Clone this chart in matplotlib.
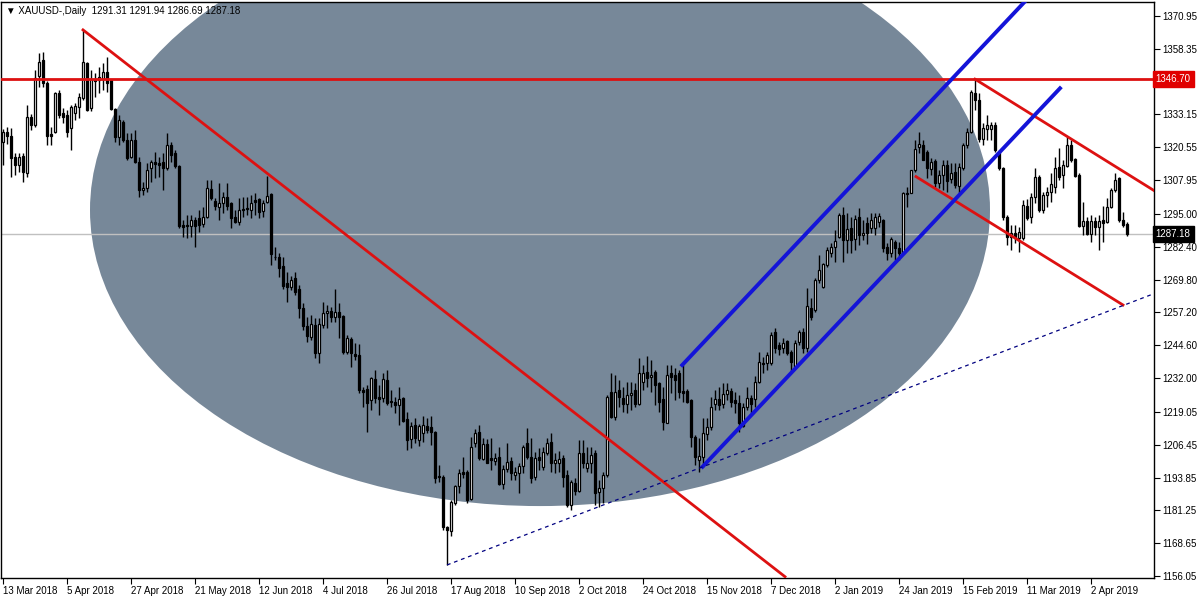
import matplotlib
matplotlib.use("Agg")
import matplotlib.pyplot as plt
from matplotlib.patches import Ellipse
import numpy as np

plt.rcParams['font.family'] = ['Liberation Sans', 'DejaVu Sans']

# ---------------- data (XAUUSD daily, 13 Mar 2018 .. 15 Apr 2019) ----------------
opens = [1322.7,1326.6,1324.9,1317.0,1313.8,1317.2,1310.6,1332.1,1329.1,1347.9,
         1354.0,1345.1,1325.5,1326.6,1341.3,1333.6,1333.0,1327.9,1333.6,1336.2,
         1339.4,1353.0,1335.5,1346.6,1346.5,1346.6,1349.6,1346.4,1335.1,1324.6,
         1330.4,1323.4,1316.9,1323.4,1315.0,1304.2,1304.8,1312.5,1315.1,1314.5,
         1315.1,1312.5,1321.4,1318.3,1313.4,1290.8,1290.8,1290.4,1292.7,1293.3,
         1291.1,1293.9,1304.4,1300.1,1297.8,1299.1,1301.4,1299.1,1293.9,1292.0,
         1297.0,1297.1,1296.5,1300.4,1300.6,1296.1,1299.7,1302.5,1278.6,1278.6,
         1275.0,1268.6,1267.1,1270.3,1266.1,1258.8,1252.0,1247.9,1252.4,1241.8,
         1252.4,1256.9,1257.8,1255.5,1257.5,1255.8,1242.1,1246.9,1241.2,1240.8,
         1227.4,1227.7,1223.6,1231.5,1224.9,1224.2,1231.3,1223.2,1222.9,1221.7,
         1224.2,1216.2,1208.5,1214.0,1208.2,1210.8,1213.6,1213.1,1211.4,1194.2,
         1194.2,1175.0,1173.5,1183.9,1190.6,1196.1,1196.1,1185.5,1207.0,1211.4,
         1200.8,1206.7,1201.2,1200.3,1201.8,1191.4,1197.0,1200.3,1194.8,1195.7,
         1198.3,1207.0,1201.6,1194.2,1201.8,1198.0,1203.4,1207.6,1199.6,1199.5,
         1201.2,1194.8,1183.3,1191.6,1188.8,1203.1,1197.4,1199.5,1203.1,1188.4,
         1189.7,1194.8,1226.8,1216.9,1227.4,1224.2,1222.0,1225.5,1227.4,1222.0,
         1230.6,1234.5,1232.3,1234.5,1230.2,1224.0,1214.9,1234.1,1233.2,1234.1,
         1227.2,1227.2,1223.6,1209.5,1200.6,1201.9,1210.5,1213.1,1222.0,1223.8,
         1222.0,1226.0,1227.2,1223.6,1222.3,1213.6,1221.0,1224.2,1223.9,1230.6,
         1237.9,1237.7,1237.7,1249.8,1244.7,1243.4,1246.4,1242.1,1236.6,1246.0,
         1249.8,1243.4,1258.8,1258.1,1269.6,1266.8,1275.4,1280.1,1282.2,1286.3,
         1294.6,1285.0,1289.5,1285.3,1294.0,1286.9,1291.6,1289.5,1289.5,1292.0,
         1292.7,1282.4,1280.0,1284.4,1281.8,1280.5,1303.2,1303.2,1311.9,1320.5,
         1321.4,1318.9,1312.1,1315.4,1307.0,1309.9,1313.8,1308.3,1311.2,1305.7,
         1312.5,1321.4,1326.6,1341.3,1338.7,1323.6,1327.5,1327.6,1329.1,1318.9,
         1312.5,1293.7,1286.3,1287.6,1285.6,1285.6,1298.0,1294.0,1301.6,1309.3,
         1296.5,1302.3,1303.5,1305.5,1312.9,1310.0,1313.4,1321.5,1315.9,1310.0,
         1290.4,1292.1,1287.3,1292.1,1290.1,1292.7,1292.0,1297.8,1304.2,1308.7,
         1292.7,1291.31]
highs = [1327.5,1328.5,1327.8,1318.5,1318.5,1318.3,1336.8,1333.5,1350.2,1356.6,
         1357.3,1346.0,1328.5,1341.9,1342.6,1335.5,1334.9,1336.8,1337.4,1341.3,
         1365.6,1353.4,1350.2,1348.9,1351.5,1352.8,1355.3,1346.6,1335.5,1333.0,
         1331.0,1325.9,1325.9,1327.2,1317.0,1307.4,1314.4,1315.7,1318.9,1317.0,
         1318.3,1325.9,1322.7,1319.5,1313.8,1292.7,1294.6,1294.6,1294.0,1296.5,
         1297.8,1308.0,1308.0,1301.0,1306.7,1303.5,1306.7,1299.7,1296.5,1301.0,
         1301.6,1301.6,1302.3,1302.9,1301.0,1300.4,1309.6,1302.9,1282.4,1280.0,
         1278.6,1272.8,1271.2,1272.8,1267.7,1260.7,1255.6,1256.2,1254.9,1254.9,
         1261.3,1260.0,1259.4,1266.1,1260.7,1256.2,1248.5,1247.9,1245.6,1245.1,
         1228.7,1229.4,1232.5,1235.1,1229.4,1234.0,1235.1,1227.4,1224.9,1228.7,
         1224.9,1219.0,1215.0,1216.5,1214.5,1217.5,1216.6,1217.5,1211.8,1198.6,
         1195.0,1175.3,1185.2,1191.0,1197.0,1201.9,1196.8,1209.5,1212.3,1214.0,
         1208.9,1208.5,1208.9,1203.1,1205.7,1198.6,1207.2,1201.9,1198.0,1199.3,
         1206.3,1212.7,1208.9,1203.8,1205.0,1205.7,1208.9,1210.8,1203.1,1204.0,
         1202.5,1196.7,1192.9,1193.5,1208.3,1208.2,1205.7,1205.7,1204.4,1192.9,
         1196.1,1225.5,1233.8,1233.2,1231.3,1228.7,1230.6,1230.6,1230.0,1239.6,
         1237.0,1240.5,1239.0,1235.1,1230.6,1228.7,1237.0,1237.0,1235.7,1235.1,
         1237.0,1227.8,1224.0,1210.0,1208.9,1216.6,1216.6,1224.9,1227.4,1228.7,
         1230.0,1230.3,1228.1,1226.8,1225.5,1222.3,1228.7,1225.5,1232.8,1242.1,
         1240.2,1242.1,1249.8,1251.1,1246.0,1247.3,1246.6,1242.8,1246.6,1250.5,
         1251.1,1266.4,1262.6,1270.3,1279.3,1276.1,1282.4,1283.7,1288.8,1295.2,
         1297.8,1295.2,1293.9,1294.6,1297.1,1292.7,1293.9,1295.2,1295.2,1295.2,
         1293.1,1284.0,1286.3,1285.0,1284.4,1303.5,1305.5,1312.0,1323.4,1326.6,
         1323.4,1319.5,1316.3,1315.9,1311.9,1315.7,1315.7,1314.4,1314.4,1314.4,
         1322.1,1327.8,1342.6,1346.7,1341.3,1329.8,1332.9,1330.4,1330.4,1319.5,
         1313.1,1294.6,1290.8,1290.8,1290.1,1300.4,1300.6,1302.9,1312.5,1309.9,
         1303.5,1305.5,1310.6,1317.0,1320.2,1315.7,1324.6,1323.4,1316.3,1310.6,
         1299.7,1293.9,1294.6,1293.9,1294.6,1298.0,1301.0,1304.8,1310.6,1309.3,
         1295.9,1291.94]
lows = [1313.8,1322.0,1309.3,1310.0,1311.2,1307.4,1309.3,1327.2,1328.5,1343.8,
        1343.8,1321.5,1321.5,1326.0,1331.7,1329.8,1324.6,1319.5,1331.0,1331.7,
        1338.8,1334.3,1334.3,1340.0,1341.3,1342.6,1341.9,1334.9,1322.7,1321.5,
        1322.7,1315.7,1316.3,1314.4,1301.6,1302.3,1303.5,1307.4,1308.6,1309.3,
        1304.2,1311.9,1315.1,1312.5,1289.5,1286.3,1285.6,1286.3,1282.4,1288.2,
        1290.1,1293.3,1300.4,1296.5,1292.7,1295.2,1296.5,1289.5,1291.4,1290.8,
        1294.0,1294.6,1293.3,1294.6,1293.3,1294.0,1299.1,1275.4,1277.3,1270.9,
        1266.0,1261.3,1265.8,1263.9,1255.0,1250.4,1246.0,1246.6,1239.6,1237.9,
        1251.1,1251.1,1253.7,1253.7,1247.3,1241.2,1241.2,1236.4,1238.9,1226.2,
        1221.0,1211.4,1219.8,1222.3,1217.8,1222.9,1221.7,1221.0,1218.5,1214.0,
        1215.3,1204.5,1205.0,1207.0,1206.0,1207.5,1210.8,1206.3,1191.6,1192.3,
        1173.7,1160.3,1171.4,1183.3,1187.8,1193.5,1183.9,1185.2,1205.7,1200.6,
        1200.6,1199.3,1196.7,1198.6,1191.0,1189.3,1196.1,1192.9,1192.9,1187.8,
        1195.5,1200.8,1191.6,1192.9,1196.7,1196.7,1202.5,1196.1,1195.5,1196.0,
        1190.3,1182.7,1181.4,1187.2,1188.4,1197.4,1196.1,1195.5,1183.3,1182.7,
        1184.0,1194.2,1216.6,1215.9,1221.0,1219.1,1218.5,1219.8,1221.0,1221.7,
        1227.4,1228.7,1226.8,1221.7,1219.1,1212.1,1214.6,1226.2,1223.6,1224.2,
        1222.9,1222.3,1205.7,1198.6,1196.1,1198.0,1208.2,1212.1,1219.8,1219.8,
        1220.4,1223.6,1221.0,1218.5,1211.4,1213.4,1219.8,1218.5,1221.0,1230.0,
        1233.8,1235.1,1237.0,1241.5,1240.8,1241.5,1240.8,1234.5,1236.4,1244.7,
        1241.5,1242.1,1254.3,1257.5,1268.4,1266.4,1274.8,1278.6,1276.7,1285.6,
        1276.7,1279.9,1279.9,1281.2,1283.1,1285.0,1283.5,1287.6,1286.9,1290.1,
        1280.5,1277.3,1278.6,1277.3,1277.3,1279.9,1297.8,1302.9,1311.2,1318.3,
        1315.5,1308.7,1310.0,1305.5,1304.8,1304.2,1303.5,1306.7,1304.8,1302.9,
        1311.9,1320.2,1325.9,1334.9,1322.7,1321.4,1323.4,1323.4,1318.9,1311.9,
        1292.7,1283.1,1281.2,1283.7,1280.5,1285.0,1292.7,1291.4,1299.0,1295.9,
        1295.2,1297.8,1299.7,1302.9,1308.0,1304.8,1313.1,1315.0,1309.3,1290.1,
        1286.9,1286.9,1284.4,1286.9,1281.2,1284.4,1291.4,1297.1,1303.5,1292.0,
        1290.1,1286.69]
closes = [1326.6,1324.9,1316.3,1313.8,1317.0,1311.2,1332.1,1329.1,1347.0,1353.4,
          1345.1,1324.7,1324.9,1341.3,1333.0,1332.3,1326.6,1335.9,1336.4,1340.0,
          1353.4,1334.9,1346.6,1345.8,1347.7,1349.6,1345.1,1335.1,1324.6,1331.0,
          1323.4,1316.3,1323.4,1315.0,1304.2,1305.0,1311.9,1315.1,1314.2,1313.6,
          1312.5,1321.4,1317.6,1313.4,1290.4,1290.1,1290.4,1292.7,1290.4,1290.8,
          1293.7,1304.8,1301.0,1298.0,1299.1,1301.4,1298.1,1293.3,1292.0,1296.5,
          1296.5,1296.8,1299.1,1299.7,1295.9,1299.3,1302.0,1279.6,1278.3,1274.1,
          1267.4,1266.8,1269.7,1265.2,1258.8,1252.0,1248.2,1252.8,1241.8,1252.8,
          1256.8,1257.8,1255.3,1257.5,1255.3,1242.1,1247.3,1241.5,1240.5,1227.4,
          1226.8,1222.6,1231.9,1224.2,1224.1,1231.5,1222.3,1222.7,1221.7,1223.8,
          1215.6,1208.2,1213.6,1209.0,1213.6,1214.0,1212.1,1211.5,1193.5,1193.9,
          1174.7,1173.7,1184.6,1190.6,1195.7,1195.2,1185.2,1205.7,1211.0,1201.2,
          1206.7,1199.6,1200.6,1201.5,1191.4,1197.0,1199.9,1195.5,1196.1,1198.3,
          1205.7,1201.6,1193.5,1201.2,1200.6,1203.8,1207.0,1199.3,1200.6,1201.0,
          1194.2,1183.3,1192.3,1188.8,1203.1,1199.5,1199.5,1202.5,1187.8,1189.7,
          1194.8,1224.6,1217.2,1226.8,1224.9,1222.0,1225.5,1226.4,1222.0,1233.8,
          1234.1,1231.9,1233.2,1229.4,1222.9,1215.0,1233.2,1232.5,1231.3,1226.8,
          1226.4,1223.0,1209.5,1201.9,1202.1,1210.8,1213.1,1221.0,1223.8,1221.7,
          1225.8,1227.4,1222.9,1222.3,1214.9,1220.8,1224.2,1222.0,1230.6,1238.3,
          1237.4,1240.8,1248.5,1243.4,1243.0,1245.3,1241.8,1238.3,1245.6,1249.5,
          1243.4,1259.7,1255.6,1269.6,1273.5,1275.8,1281.2,1282.4,1284.7,1294.6,
          1285.0,1289.1,1285.0,1292.9,1286.9,1287.8,1287.5,1292.6,1293.9,1294.2,
          1281.8,1279.9,1285.3,1281.8,1279.9,1302.9,1302.6,1311.9,1319.8,1321.8,
          1315.7,1312.5,1315.1,1306.7,1309.9,1313.8,1307.8,1310.6,1306.1,1312.9,
          1321.4,1326.6,1341.9,1338.7,1323.6,1327.8,1329.1,1329.1,1319.5,1312.5,
          1293.7,1286.3,1287.6,1285.6,1288.2,1298.4,1293.3,1301.6,1309.3,1296.5,
          1302.3,1303.5,1306.5,1312.5,1309.3,1313.8,1321.5,1315.7,1309.6,1290.4,
          1292.1,1287.3,1292.1,1290.1,1292.1,1291.4,1297.8,1304.2,1308.0,1292.7,
          1290.8,1287.18]

date_labels = ["13 Mar 2018", "5 Apr 2018", "27 Apr 2018", "21 May 2018", "12 Jun 2018",
               "4 Jul 2018", "26 Jul 2018", "17 Aug 2018", "10 Sep 2018", "2 Oct 2018",
               "24 Oct 2018", "15 Nov 2018", "7 Dec 2018", "2 Jan 2019", "24 Jan 2019",
               "15 Feb 2019", "11 Mar 2019", "2 Apr 2019"]
label_step = 16

price_ticks = [1370.95, 1358.35, 1345.75, 1333.15, 1320.55, 1307.95, 1295.00, 1282.40,
               1269.80, 1257.20, 1244.60, 1232.00, 1219.05, 1206.45, 1193.85, 1181.25,
               1168.65, 1156.05]
hidden_tick = 1345.75   # covered by the red price label in the reference

level_price = 1346.70
last_price = 1287.18
header = "XAUUSD-,Daily  1291.31 1291.94 1286.69 1287.18"

# ---------------- figure ----------------
fig = plt.figure(figsize=(12, 6), dpi=100)
fig.patch.set_facecolor("white")
ax = fig.add_axes([1/1200, 22/600, 1153/1200, 576/600])
ax.set_facecolor("white")

n = len(closes)
x = np.arange(n)
o = np.array(opens); h = np.array(highs); l = np.array(lows); c = np.array(closes)

ax.set_xlim(-0.5, 287.75)
ax.set_ylim(1155.3, 1376.3)

# ellipse background object
ell = Ellipse((134.25, 1296.5), 225, 227.2, facecolor="#778899", edgecolor="none", zorder=0)
ax.add_patch(ell)

# gray last price line
ax.axhline(last_price, color="#c0c0c0", lw=1.0, zorder=1)

# candles
ax.vlines(x, l, h, color="black", lw=1.0, zorder=3)
up = c >= o
bottoms = np.minimum(o, c)
heights = np.maximum(np.abs(c - o), 0.35)
ax.bar(x[up], heights[up], bottom=bottoms[up], width=0.55, color="white",
       edgecolor="black", linewidth=0.9, zorder=4)
ax.bar(x[~up], heights[~up], bottom=bottoms[~up], width=0.55, color="black",
       edgecolor="black", linewidth=0.9, zorder=4)

red = "#dd1111"
blue = "#1414d8"
# horizontal resistance
ax.axhline(level_price, color=red, lw=2, zorder=5)
# long descending trendline
ax.plot([20, 195.5], [1365.6, 1155.8], color=red, lw=2, zorder=5)
# descending channel (right)
ax.plot([243, 300], [1346.7, 1346.7 - 57 * 0.955], color=red, lw=2, zorder=5)
ax.plot([228.25, 280], [1309.3, 1260.05], color=red, lw=2, zorder=5)
# rising channel (blue)
ax.plot([169.8, 265], [1237.0, 1237.0 + 95.2 * 1.628], color=blue, lw=2.8, zorder=5)
ax.plot([174.9, 264.25], [1198.0, 1343.2], color=blue, lw=2.8, zorder=5)
# dotted support ray
ax.plot([111, 300], [1160.3, 1160.3 + 189 * 0.589], color="#000080", lw=0.9,
        ls=(0, (3, 3)), zorder=5)

# axes styling
for s in ax.spines.values():
    s.set_color("black")
    s.set_linewidth(1.0)
ax.yaxis.tick_right()
ax.set_yticks(price_ticks)
ax.set_yticklabels(["" if v == hidden_tick else f"{v:.2f}" for v in price_ticks])
ax.tick_params(axis="y", direction="out", length=4, width=0.8, pad=2, labelsize=7,
               colors="black")
tick_pos = [i * label_step for i in range(len(date_labels))]
ax.set_xticks(tick_pos)
ax.set_xticklabels(date_labels, ha="left")
ax.tick_params(axis="x", direction="out", length=4, width=0.8, pad=2, labelsize=7)
for lab in ax.get_xticklabels():
    lab.set_horizontalalignment("left")

# price labels on the right axis
ax.text(1.0015, level_price, f"{level_price:.2f}", transform=ax.get_yaxis_transform(),
        ha="left", va="center", fontsize=7, color="white", zorder=10,
        bbox=dict(boxstyle="square,pad=0.3", facecolor="#e00000", edgecolor="#e00000"),
        clip_on=False)
ax.text(1.0015, last_price, f"{last_price:.2f}", transform=ax.get_yaxis_transform(),
        ha="left", va="center", fontsize=7, color="white", zorder=10,
        bbox=dict(boxstyle="square,pad=0.3", facecolor="black", edgecolor="black"),
        clip_on=False)

# header
ax.text(0.004, 0.985, "\u25BC " + header, transform=ax.transAxes, ha="left", va="center",
        fontsize=7, color="black", zorder=10)

fig.savefig("out.png", dpi=100, facecolor="white")
